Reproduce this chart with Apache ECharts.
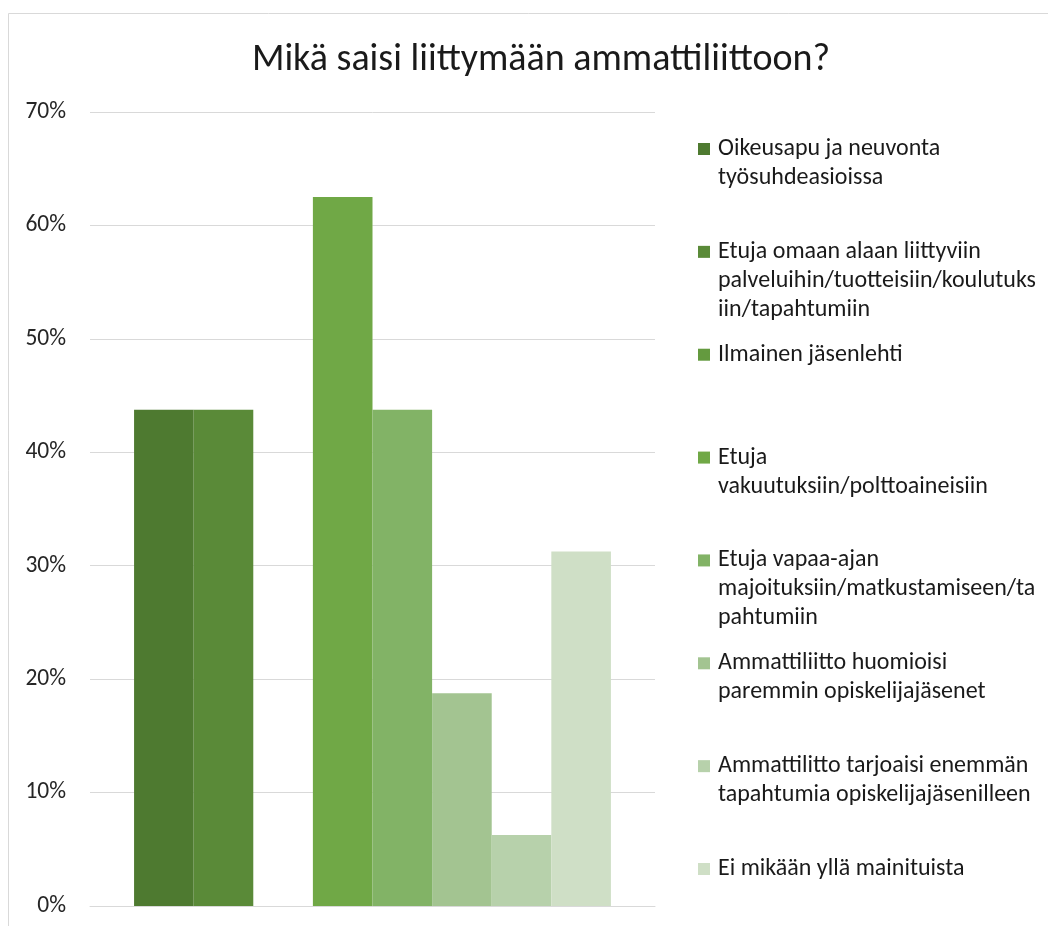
<!DOCTYPE html>
<html><head><meta charset="utf-8">
<script src="https://cdn.jsdelivr.net/npm/echarts@6/dist/echarts.min.js"></script>
<style>html,body{margin:0;padding:0;background:#fff}#c{width:1048px;height:926px}</style>
</head><body><div id="c"></div>
<script>
const titleText = 'Mikä saisi liittymään ammattiliittoon?';
const categories = [''];
const seriesNames = [
  'Oikeusapu ja neuvonta työsuhdeasioissa',
  'Etuja omaan alaan liittyviin palveluihin/tuotteisiin/koulutuksiin/tapahtumiin',
  'Ilmainen jäsenlehti',
  'Etuja vakuutuksiin/polttoaineisiin',
  'Etuja vapaa-ajan majoituksiin/matkustamiseen/tapahtumiin',
  'Ammattiliitto huomioisi paremmin opiskelijajäsenet',
  'Ammattilitto tarjoaisi enemmän tapahtumia opiskelijajäsenilleen',
  'Ei mikään yllä mainituista'
];
const legendLabels = [
  'Oikeusapu ja neuvonta\ntyösuhdeasioissa',
  'Etuja omaan alaan liittyviin\npalveluihin/tuotteisiin/koulutuks\niin/tapahtumiin',
  'Ilmainen jäsenlehti',
  'Etuja\nvakuutuksiin/polttoaineisiin',
  'Etuja vapaa-ajan\nmajoituksiin/matkustamiseen/ta\npahtumiin',
  'Ammattiliitto huomioisi\nparemmin opiskelijajäsenet',
  'Ammattilitto tarjoaisi enemmän\ntapahtumia opiskelijajäsenilleen',
  'Ei mikään yllä mainituista'
];
const seriesValues = [0.4375, 0.4375, 0, 0.625, 0.4375, 0.1875, 0.0625, 0.3125];
const seriesColors = ['#4E7A30', '#5A8A38', '#649A3F', '#70A846', '#82B366', '#A3C491', '#B7D1AB', '#CFDFC6'];
const yMin = 0, yMax = 0.7, yInterval = 0.1;

const FONT = 'Carlito, Lato, sans-serif';
const L = 29; // legend line height
const labelMap = {};
seriesNames.forEach((n, i) => {
  // pad with empty lines so the first text line sits level with the marker
  const k = legendLabels[i].split('\n').length;
  labelMap[n] = '\n\n' + legendLabels[i] + '\n'.repeat(3 - k);
});

const chart = echarts.init(document.getElementById('c'), null, {renderer: 'canvas'});
chart.setOption({
  animation: false,
  backgroundColor: '#fff',
  graphic: [{
    type: 'rect', silent: true, z: -10,
    shape: {x: 8.5, y: 13.5, width: 2000, height: 2000},
    style: {fill: 'none', stroke: '#d9d9d9', lineWidth: 1}
  }],
  title: {
    text: titleText,
    left: 536, top: 36, textAlign: 'center',
    textStyle: {fontFamily: FONT, fontWeight: 400, fontSize: 38, color: '#1a1a1a'}
  },
  grid: {left: 90, right: 393, top: 112, bottom: 20, containLabel: false},
  xAxis: {
    type: 'category', data: categories,
    axisLine: {show: true, lineStyle: {color: '#d9d9d9', width: 1}},
    axisTick: {show: false}, axisLabel: {show: false}
  },
  yAxis: {
    type: 'value', min: yMin, max: yMax, interval: yInterval,
    axisLine: {show: false}, axisTick: {show: false},
    splitLine: {lineStyle: {color: '#d9d9d9', width: 1}},
    axisLabel: {
      margin: 24, fontFamily: FONT, fontSize: 23.5, color: '#262626',
      formatter: v => Math.round(v * 100) + '%'
    }
  },
  legend: {
    type: 'plain', orient: 'vertical', left: 698, top: 149 - 2.5 * L, padding: 0,
    height: 2000,
    itemWidth: 12, itemHeight: 12, icon: 'rect',
    itemGap: 102.86 - 5 * L,
    formatter: n => labelMap[n],
    textStyle: {fontFamily: FONT, fontSize: 24, lineHeight: L, color: '#1a1a1a', padding: [0, 0, 0, 3]},
    data: seriesNames
  },
  series: seriesNames.map((n, i) => ({
    name: n, type: 'bar', data: [seriesValues[i]],
    barGap: '0%', barCategoryGap: '15.6%',
    itemStyle: {color: seriesColors[i]}
  }))
});
</script></body></html>
